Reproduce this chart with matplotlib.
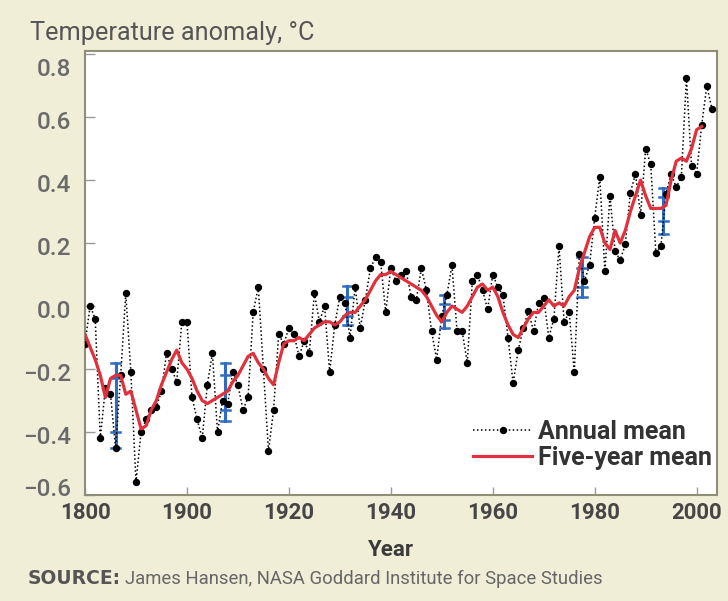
import numpy as np
import matplotlib
matplotlib.use("Agg")
import matplotlib.pyplot as plt
import matplotlib.transforms as mtransforms

plt.rcParams['font.family'] = ['Roboto', 'DejaVu Sans']

# annual mean temperature anomaly
years = np.arange(1880, 2004)
annual = [
    -0.12, 0.00, -0.04, -0.42, -0.26, -0.28, -0.45, -0.22, 0.04, -0.21,
    -0.56, -0.40, -0.36, -0.33, -0.32, -0.27, -0.15, -0.20, -0.24, -0.05,
    -0.05, -0.29, -0.36, -0.42, -0.25, -0.15, -0.40, -0.30, -0.31, -0.21,
    -0.25, -0.33, -0.29, -0.02, 0.06, -0.20, -0.46, -0.33, -0.09, -0.12,
    -0.07, -0.09, -0.16, -0.11, -0.15, 0.04, -0.05, 0.00, -0.21, -0.06,
    0.03, 0.01, -0.10, 0.06, -0.07, 0.02, 0.12, 0.155, 0.14, -0.02,
    0.12, 0.08, 0.10, 0.11, 0.03, 0.02, 0.12, 0.05, -0.08, -0.17,
    -0.03, 0.035, 0.13, -0.08, -0.08, -0.18, 0.08, 0.10, 0.05, -0.01,
    0.10, 0.06, 0.035, -0.10, -0.245, -0.14, -0.07, -0.015, -0.08, 0.01,
    0.025, -0.10, -0.04, 0.19, -0.05, -0.02, -0.21, 0.165, 0.08, 0.13,
    0.28, 0.41, 0.11, 0.35, 0.175, 0.145, 0.196, 0.36, 0.42, 0.29,
    0.50, 0.45, 0.17, 0.19, 0.357, 0.42, 0.377, 0.41, 0.725, 0.445,
    0.42, 0.575, 0.70, 0.626,
]

# five-year running mean
five_years = np.arange(1880, 2002)
five_year = [
    -0.09, -0.13, -0.17, -0.22, -0.29, -0.23, -0.22, -0.22, -0.28, -0.27,
    -0.33, -0.39, -0.38, -0.33, -0.30, -0.25, -0.21, -0.17, -0.14, -0.18,
    -0.20, -0.23, -0.27, -0.30, -0.31, -0.30, -0.29, -0.28, -0.27, -0.24,
    -0.22, -0.19, -0.16, -0.15, -0.18, -0.20, -0.23, -0.25, -0.18, -0.12,
    -0.11, -0.11, -0.10, -0.11, -0.09, -0.07, -0.06, -0.05, -0.05, -0.06,
    -0.05, -0.03, -0.02, -0.02, 0.00, 0.02, 0.05, 0.08, 0.10, 0.10,
    0.11, 0.10, 0.09, 0.08, 0.07, 0.06, 0.05, 0.03, 0.00, -0.03,
    -0.05, -0.02, 0.00, -0.01, -0.02, 0.00, 0.03, 0.06, 0.07, 0.05,
    0.06, 0.03, -0.02, -0.06, -0.09, -0.10, -0.07, -0.04, -0.02, -0.02,
    0.00, 0.02, 0.00, 0.01, 0.00, 0.03, 0.05, 0.12, 0.17, 0.22,
    0.25, 0.25, 0.20, 0.18, 0.24, 0.20, 0.24, 0.30, 0.35, 0.40,
    0.35, 0.31, 0.31, 0.31, 0.32, 0.40, 0.46, 0.47, 0.46, 0.50,
    0.56, 0.57,
]

# uncertainty bars (blue)
err_years = [1886, 1907.5, 1931.5, 1950.5, 1977.5, 1993.5]
err_outer_lo = [-0.45, -0.365, -0.06, -0.07, 0.03, 0.23]
err_outer_hi = [-0.18, -0.18, 0.065, 0.035, 0.155, 0.375]
err_inner_lo = [-0.40, -0.33, -0.03, -0.045, 0.06, 0.27]
err_inner_hi = [-0.23, -0.22, 0.03, 0.005, 0.12, 0.345]

yticks = [0.8, 0.6, 0.4, 0.2, 0.0, -0.2, -0.4, -0.6]
ytick_labels = ['0.8', '0.6', '0.4', '0.2', '0.0', '\u22120.2', '\u22120.4', '\u22120.6']
xticks = [1880, 1900, 1920, 1940, 1960, 1980, 2000]
xtick_labels = ['1800', '1900', '1920', '1940', '1960', '1980', '2000']

bg = '#f1eed8'
fig = plt.figure(figsize=(7.28, 6.01), dpi=100, facecolor=bg)
ax = fig.add_axes([85 / 728, 1 - 495 / 601, (717 - 85) / 728, (495 - 51) / 601])
ax.set_facecolor('white')

# blue error bars
blue = '#2f6cc0'
for x, lo, hi, ilo, ihi in zip(err_years, err_outer_lo, err_outer_hi, err_inner_lo, err_inner_hi):
    ax.plot([x, x], [lo, hi], color=blue, lw=2.2, zorder=2)
    for y in (lo, hi, ilo, ihi):
        ax.plot([x - 0.9, x + 0.9], [y, y], color=blue, lw=1.8, zorder=2)

ax.plot(years, annual, color='black', lw=1.1, linestyle=(0, (1, 1.6)),
        marker='o', markersize=4.3, label='Annual mean', zorder=3)
ax.plot(five_years, five_year, color='#e0313c', lw=2.3, label='Five-year mean', zorder=4)

ax.set_xlim(1880, 2004)
ax.set_ylim(-0.585, 0.81)

ax.set_yticks(yticks)
ax.set_yticklabels(ytick_labels)
ax.set_xticks(xticks)
ax.set_xticklabels(xtick_labels)

ax.tick_params(axis='y', direction='in', length=7, width=1, color='#9a9a9a', pad=10,
               labelsize=17.5, labelcolor='#6a6a6a')
ax.tick_params(axis='x', direction='in', length=6, width=1, color='#9a9a9a', pad=5,
               labelsize=16, labelcolor='#464646')
for lab in ax.get_yticklabels():
    lab.set_fontweight('medium')
for lab in ax.get_xticklabels():
    lab.set_fontweight('bold')

# nudge the end labels inward like the original
ylabs = ax.get_yticklabels()
ylabs[0].set_transform(ylabs[0].get_transform() + mtransforms.ScaledTranslation(0, -13 / 100, fig.dpi_scale_trans))
ylabs[-1].set_transform(ylabs[-1].get_transform() + mtransforms.ScaledTranslation(0, 8 / 100, fig.dpi_scale_trans))
for lab in ylabs[1:-1]:
    lab.set_transform(lab.get_transform() + mtransforms.ScaledTranslation(0, -3 / 100, fig.dpi_scale_trans))

for s in ax.spines.values():
    s.set_color('#8f8f78')
    s.set_linewidth(1.5)

leg = ax.legend(loc='lower right', bbox_to_anchor=(1.0, 0.045), frameon=False,
                handlelength=2.35, handletextpad=0.24, labelspacing=0.1, numpoints=1,
                borderaxespad=0, borderpad=0.2,
                prop={'size': 18, 'weight': 'bold'})
for t in leg.get_texts():
    t.set_color('#333333')

fig.text(30 / 728, 1 - 33 / 601, 'Temperature anomaly, \u00b0C', fontsize=18.2,
         color='#555555', va='center', ha='left')
fig.text(391 / 728, 1 - 550 / 601, 'Year', fontsize=16, fontweight='bold',
         color='#3a3a3a', va='center', ha='center')
fig.text(28 / 728, 1 - 579 / 601, 'SOURCE:', fontsize=13.5, fontweight='bold',
         color='#555555', va='center', ha='left', family=['DejaVu Sans'])
fig.text(125 / 728, 1 - 579 / 601, 'James Hansen, NASA Goddard Institute for Space Studies',
         fontsize=13.3, color='#666666', va='center', ha='left')

fig.savefig('out.png', dpi=100, facecolor=bg)
